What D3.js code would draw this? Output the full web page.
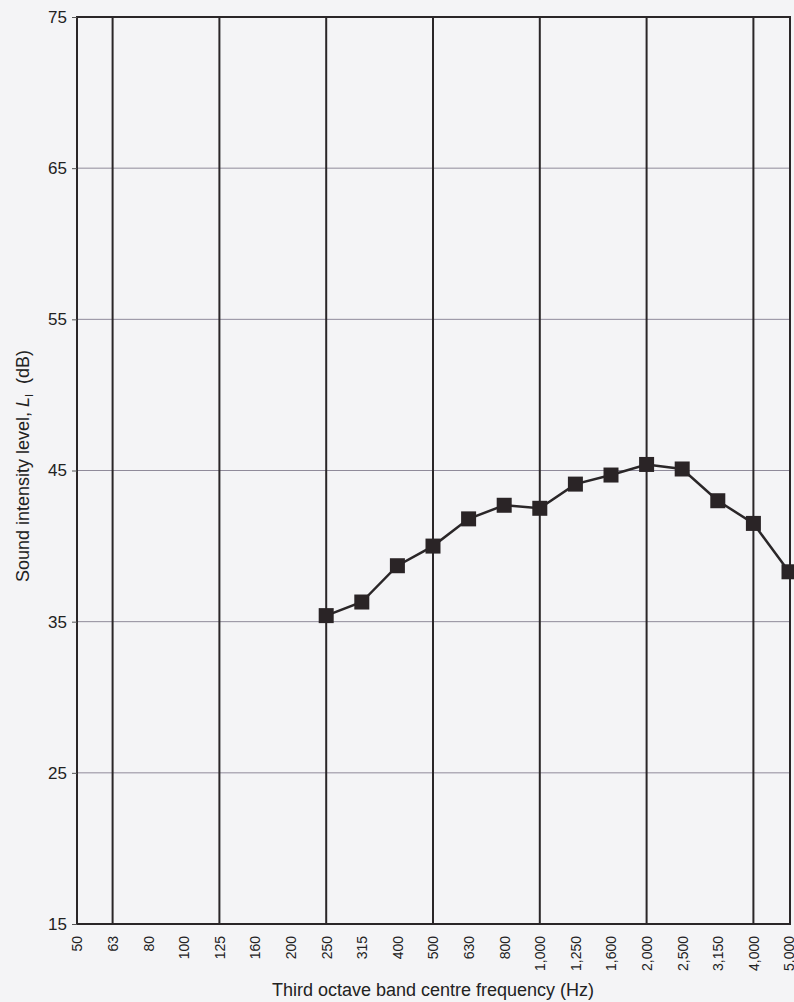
<!DOCTYPE html>
<html>
<head>
<meta charset="utf-8">
<script src="https://cdn.jsdelivr.net/npm/d3@7"></script>
<style>
  body { margin: 0; background: #f4f4f6; }
  svg { display: block; font-family: "Liberation Sans", Arial, sans-serif; }
</style>
</head>
<body>
<div id="chart"></div>
<script>
// third octave band centre frequencies (Hz)
var bands = ['50', '63', '80', '100', '125', '160', '200', '250', '315', '400', '500',
    '630', '800', '1,000', '1,250', '1,600', '2,000', '2,500', '3,150', '4,000', '5,000'];
// octave bands get the heavy vertical lines
var octaves = ['63', '125', '250', '500', '1,000', '2,000', '4,000'];
// measured intensity level per band (dB), from 250 Hz up
var measuredBands = ['250', '315', '400', '500', '630', '800', '1,000', '1,250',
    '1,600', '2,000', '2,500', '3,150', '4,000', '5,000'];
var levels = [35.4, 36.3, 38.7, 40.0, 41.8, 42.7, 42.5, 44.1, 44.7, 45.4, 45.1, 43.0, 41.5, 38.3];
var yTicks = [15, 25, 35, 45, 55, 65, 75];

var width = 794, height = 1002;
var margin = {top: 17, right: 5, bottom: 78, left: 77};

var svg = d3.select('#chart').append('svg')
    .attr('width', width).attr('height', height);

var x = d3.scalePoint().domain(bands).range([margin.left, 789]);
var y = d3.scaleLinear().domain([15, 75]).range([height - margin.bottom, margin.top]);

var ink = '#2a2628';

// horizontal grid
svg.append('g').selectAll('line')
    .data(yTicks.slice(1, -1))
    .enter().append('line')
    .attr('x1', margin.left).attr('x2', 790)
    .attr('y1', function(d) { return y(d); }).attr('y2', function(d) { return y(d); })
    .style('stroke', '#8f8a9a').style('stroke-width', 1);

// octave lines
svg.append('g').selectAll('line')
    .data(octaves)
    .enter().append('line')
    .attr('x1', function(d) { return x(d); }).attr('x2', function(d) { return x(d); })
    .attr('y1', y(75)).attr('y2', y(15))
    .style('stroke', ink).style('stroke-width', 2);

// frame
svg.append('rect')
    .attr('x', margin.left).attr('y', y(75))
    .attr('width', 790 - margin.left).attr('height', y(15) - y(75))
    .style('fill', 'none').style('stroke', ink).style('stroke-width', 2);

// y axis
var yAxis = svg.append('g')
    .attr('transform', 'translate(' + margin.left + ',0)')
    .call(d3.axisLeft(y).tickValues(yTicks).tickSize(5).tickPadding(5));
yAxis.select('.domain').remove();
yAxis.selectAll('line').style('stroke', '#555').style('stroke-width', 1);
yAxis.selectAll('text').style('font-size', '17px').style('fill', '#222');

// x axis
var xAxis = svg.append('g')
    .attr('transform', 'translate(0,' + y(15) + ')')
    .call(d3.axisBottom(x).tickSize(0));
xAxis.select('.domain').remove();
xAxis.selectAll('text')
    .attr('transform', 'rotate(-90)')
    .attr('x', -12).attr('y', 0).attr('dy', '0.35em')
    .style('text-anchor', 'end')
    .style('font-size', '14px').style('fill', '#222');

// axis titles
svg.append('text')
    .attr('x', 433).attr('y', 996)
    .attr('text-anchor', 'middle')
    .style('font-size', '18px').style('fill', '#222')
    .text('Third octave band centre frequency (Hz)');

var yt = svg.append('text')
    .attr('transform', 'translate(29,' + 466 + ') rotate(-90)')
    .attr('text-anchor', 'middle')
    .style('font-size', '18px').style('fill', '#222');
yt.append('tspan').text('Sound intensity level, ');
yt.append('tspan').style('font-style', 'italic').text('L');
yt.append('tspan').attr('dy', 4).style('font-size', '11px').text('I');
yt.append('tspan').attr('dy', -4).text('\u00a0 (dB)');

// series
var pts = measuredBands.map(function(b, i) { return [b, levels[i]]; });
var line = d3.line()
    .x(function(d) { return x(d[0]); })
    .y(function(d) { return y(d[1]); });

svg.append('path')
    .datum(pts)
    .attr('d', line)
    .style('fill', 'none').style('stroke', ink).style('stroke-width', 2.5);

var s = 15;
svg.append('g').selectAll('rect')
    .data(pts)
    .enter().append('rect')
    .attr('x', function(d) { return x(d[0]) - s / 2; })
    .attr('y', function(d) { return y(d[1]) - s / 2; })
    .attr('width', s).attr('height', s)
    .style('fill', '#2a2426');
</script>
</body>
</html>
